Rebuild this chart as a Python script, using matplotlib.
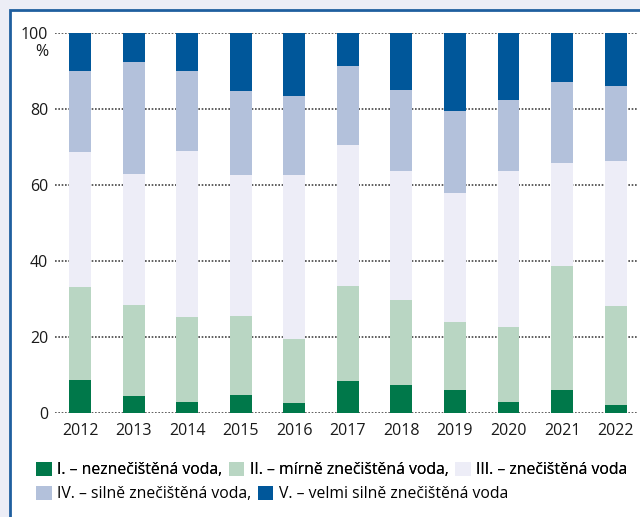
import numpy as np
import matplotlib.pyplot as plt
from matplotlib.patches import Rectangle, Patch

# data (shares in %)
years = ['2012', '2013', '2014', '2015', '2016', '2017', '2018', '2019', '2020', '2021', '2022']
cls_1 = [8.7, 4.5, 2.9, 4.7, 2.6, 8.4, 7.4, 6.1, 2.9, 6.1, 2.1]
cls_2 = [24.5, 23.9, 22.4, 20.8, 16.9, 25.0, 22.3, 17.8, 19.7, 32.6, 26.1]
cls_3 = [35.6, 34.6, 43.6, 37.0, 43.2, 37.1, 34.0, 34.0, 41.1, 27.1, 38.1]
cls_4 = [21.3, 29.5, 21.2, 22.3, 20.7, 20.8, 21.3, 21.6, 18.7, 21.3, 19.8]
cls_5 = [9.9, 7.5, 9.9, 15.2, 16.6, 8.7, 15.0, 20.5, 17.6, 12.9, 13.9]
labels = ['I. – neznečištěná voda,', 'II. – mírně znečištěná voda,', 'III. – znečištěná voda',
          'IV. – silně znečištěná voda,', 'V. – velmi silně znečištěná voda']
colours = ['#00784a', '#b9d6c3', '#ededf7', '#b3c1db', '#00579a']

plt.rcParams['font.family'] = ['Open Sans', 'DejaVu Sans']

fig = plt.figure(figsize=(6.4, 5.17), dpi=100)
fig.patch.set_facecolor('#ecedf6')

# white panel with blue top / left border
panel = Rectangle((10 / 640, -0.05), 1.1, 1 - 10 / 517 + 0.05, transform=fig.transFigure,
                  facecolor='white', edgecolor='#1f5f9f', linewidth=2, zorder=-10)
fig.patches.append(panel)

ax = fig.add_axes([55 / 640, 1 - 413 / 517, 582 / 640, 380 / 517])
ax.set_facecolor('none')
ax.set_zorder(1)

x = np.arange(len(years))
bottom = np.zeros(len(years))
for vals, col in zip([cls_1, cls_2, cls_3, cls_4, cls_5], colours):
    ax.bar(x, vals, width=0.41, bottom=bottom, color=col, zorder=2)
    bottom += np.array(vals)

ax.set_xlim(-0.47, 10.4)
ax.set_ylim(0, 100)
ax.set_yticks([0, 20, 40, 60, 80, 100])
ax.set_xticks(x)
ax.set_xticklabels(years)
ax.grid(axis='y', color='#444444', linestyle=(0, (1, 1)), linewidth=1.2, zorder=1)
ax.tick_params(length=0, labelsize=11.5, colors='#1a1a1a')
ax.tick_params(axis='x', pad=7)
ax.tick_params(axis='y', pad=5)
for s in ax.spines.values():
    s.set_visible(False)

fig.text(42 / 640, 1 - 52 / 517, '%', ha='center', va='center', fontsize=11.5, color='#1a1a1a')

handles = [Patch(facecolor=c) for c in colours]
leg1 = fig.legend(handles[:3], labels[:3], ncol=3, loc='center left',
                  bbox_to_anchor=(36 / 640, 1 - 470 / 517), frameon=False, fontsize=11.3,
                  handlelength=1.0, handleheight=1.0, handletextpad=0.35, columnspacing=0.4,
                  borderaxespad=0, borderpad=0)
leg2 = fig.legend(handles[3:], labels[3:], ncol=2, loc='center left',
                  bbox_to_anchor=(36 / 640, 1 - 494 / 517), frameon=False, fontsize=11.3,
                  handlelength=1.0, handleheight=1.0, handletextpad=0.35, columnspacing=0.4,
                  borderaxespad=0, borderpad=0)
fig.add_artist(leg1)

fig.savefig('out.png', dpi=100, facecolor=fig.get_facecolor())
